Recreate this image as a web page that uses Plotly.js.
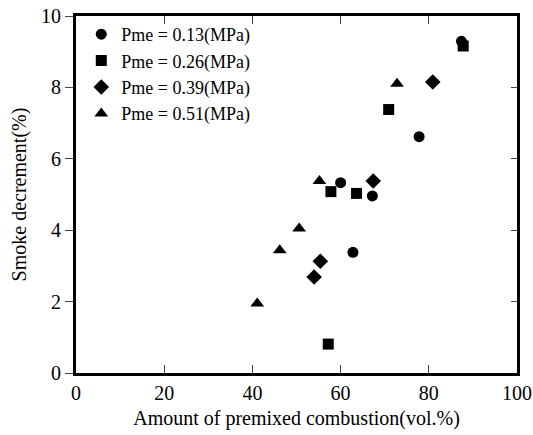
<!DOCTYPE html>
<html><head><meta charset="utf-8">
<script src="https://cdn.plot.ly/plotly-3.0.1.min.js"></script>
<style>body{margin:0;background:#fff}#c{width:533px;height:435px}</style>
</head><body><div id="c"></div>
<script>
const names = ["Pme = 0.13(MPa)", "Pme = 0.26(MPa)", "Pme = 0.39(MPa)", "Pme = 0.51(MPa)"];
const x013 = [87.4, 77.8, 60.0, 67.2, 62.8];
const y013 = [9.29, 6.62, 5.33, 4.96, 3.38];
const x026 = [87.8, 70.9, 57.8, 63.6, 57.2];
const y026 = [9.16, 7.38, 5.08, 5.03, 0.81];
const x039 = [80.9, 67.4, 55.4, 54.0];
const y039 = [8.15, 5.38, 3.13, 2.69];
const x051 = [72.8, 55.2, 50.6, 46.2, 41.1];
const y051 = [8.10, 5.38, 4.05, 3.44, 1.95];
const xTickVals = [0, 20, 40, 60, 80, 100];
const yTickVals = [0, 2, 4, 6, 8, 10];
const symbols = ["circle", "square", "diamond", "triangle-up"];
const sizes = [11, 11, 12, 12];
const xs = [x013, x026, x039, x051], ys = [y013, y026, y039, y051];
const font = "'Liberation Serif', 'Times New Roman', serif";
const traces = names.map((n, i) => ({
  x: xs[i], y: ys[i], name: n, type: "scatter", mode: "markers",
  marker: {symbol: symbols[i], size: sizes[i], color: "#000"}
}));
traces.push({x: [0], y: [0], yaxis: "y2", mode: "markers", showlegend: false, hoverinfo: "skip", marker: {opacity: 0}});
const layout = {
  width: 533, height: 435,
  margin: {l: 76, r: 16, t: 16, b: 62},
  paper_bgcolor: "#fff", plot_bgcolor: "#fff",
  font: {family: font, size: 20, color: "#000"},
  showlegend: true,
  legend: {x: 0.012, y: 1.0, xanchor: "left", yanchor: "top", bgcolor: "rgba(0,0,0,0)",
    font: {family: font, size: 18}, tracegroupgap: 0, itemwidth: 30},
  xaxis: {range: [0, 100], tickvals: xTickVals, ticks: "inside", ticklen: 8, tickwidth: 1,
    ticklabeloverflow: "allow",
    showline: true, linewidth: 3, linecolor: "#000", mirror: "ticks", showgrid: false, zeroline: false,
    tickfont: {family: font, size: 20},
    title: {text: "Amount of premixed combustion(vol.%)", font: {family: font, size: 20}, standoff: 8}},
  yaxis: {range: [0, 10], tickvals: yTickVals, ticks: "outside", ticklen: 8, tickwidth: 1,
    showline: true, linewidth: 3, linecolor: "#000", showgrid: false, zeroline: false,
    tickfont: {family: font, size: 20},
    title: {text: "Smoke decrement(%)", font: {family: font, size: 20}, standoff: 10}},
  yaxis2: {range: [0, 10], overlaying: "y", side: "right", tickvals: [2, 4, 6, 8], ticks: "inside", ticklen: 6,
    tickwidth: 1, showticklabels: false, showline: true, linewidth: 3, linecolor: "#000", showgrid: false, zeroline: false}
};
Plotly.newPlot("c", traces, layout, {staticPlot: true, displayModeBar: false});
</script></body></html>
